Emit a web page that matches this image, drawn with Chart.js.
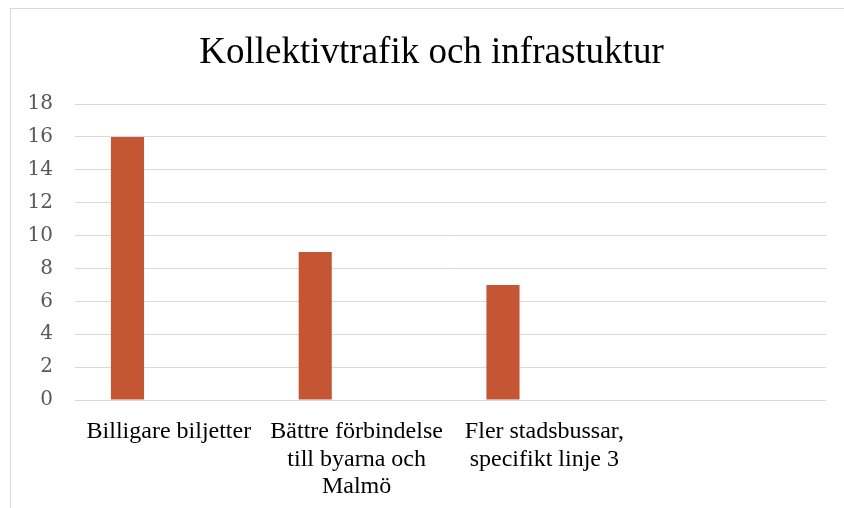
<!DOCTYPE html>
<html>
<head>
<meta charset="utf-8">
<script src="https://cdn.jsdelivr.net/npm/chart.js@4.4.1/dist/chart.umd.min.js"></script>
<style>
  html, body { margin: 0; padding: 0; background: #ffffff; }
  #wrap { width: 844px; height: 508px; }
</style>
</head>
<body>
<div id="wrap"><canvas id="chart" width="844" height="508"></canvas></div>
<script>
// data
const chartTitle = 'Kollektivtrafik och infrastuktur';
const categories = [
    ["Billigare biljetter"],
    ["Bättre förbindelse", "till byarna och", "Malmö"],
    ["Fler stadsbussar,", "specifikt linje 3"],
    [""]
];
const antal = [16, 9, 7, null];
const serie2 = [null, null, null, null];   // empty second series (keeps the bars to the left)
const yTicks = [0, 2, 4, 6, 8, 10, 12, 14, 16, 18];

// light frame + title, like the spreadsheet export (frame is wider than the picture)
const framePlugin = {
    id: 'frame',
    beforeDraw(chart) {
        const ctx = chart.ctx;
        ctx.save();
        ctx.fillStyle = '#ffffff';
        ctx.fillRect(0, 0, chart.width, chart.height);
        ctx.strokeStyle = '#d9d9d9';
        ctx.lineWidth = 1;
        ctx.beginPath();
        ctx.moveTo(10.5, chart.height);
        ctx.lineTo(10.5, 8.5);
        ctx.lineTo(chart.width, 8.5);
        ctx.stroke();

        ctx.fillStyle = '#000000';
        ctx.font = '37px "Liberation Serif", "Times New Roman", serif';
        ctx.textAlign = 'center';
        ctx.textBaseline = 'alphabetic';
        ctx.fillText(chartTitle, 431.5, 63);
        ctx.restore();
    }
};

document.addEventListener('DOMContentLoaded', function(){

    const data = {
        labels: categories,
        datasets: [{
            label: "Antal",
            data: antal,
            backgroundColor: '#c55633',
            borderWidth: 0
        }, {
            label: "Serie 2",
            data: serie2,
            backgroundColor: '#ed7d31',
            borderWidth: 0
        }]
    };

    const options = {
        responsive: false,
        animation: false,
        layout: {
            padding: { left: 10, right: 18, top: 104, bottom: 0 }
        },
        categoryPercentage: 0.882,
        barPercentage: 0.4,
        plugins: {
            legend: { display: false },
            tooltip: { enabled: false },
            title: { display: false }
        },
        scales: {
            x: {
                grid: { display: false, drawTicks: false },
                border: { display: false },
                ticks: {
                    color: '#000000',
                    font: { family: '"Liberation Serif", "Times New Roman", serif', size: 24, lineHeight: 1.15 },
                    padding: 18,
                    maxRotation: 0,
                    autoSkip: false
                },
                afterFit: function(scale) { scale.height = 108; }
            },
            y: {
                min: 0,
                max: 18,
                grid: { color: '#d9d9d9', lineWidth: 1, drawTicks: false },
                border: { display: false },
                afterBuildTicks: function(scale) {
                    scale.ticks = yTicks.map(v => ({ value: v }));
                },
                ticks: {
                    color: '#595959',
                    font: { family: '"DejaVu Serif", serif', size: 20 },
                    padding: 22
                },
                afterFit: function(scale) { scale.width = 65; }
            }
        }
    };

    new Chart(document.getElementById('chart'), {
        type: 'bar',
        data: data,
        options: options,
        plugins: [framePlugin]
    });

}, false);
</script>
</body>
</html>
